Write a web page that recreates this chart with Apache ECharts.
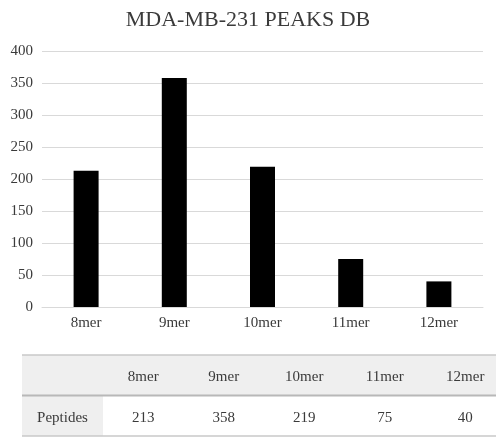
<!DOCTYPE html>
<html><head><meta charset="utf-8">
<script src="https://cdn.jsdelivr.net/npm/echarts@6/dist/echarts.min.js"></script>
<style>html,body{margin:0;padding:0;background:#fff}#c{width:496px;height:437px}</style>
</head><body><div id="c"></div>
<script>
const titleText = 'MDA-MB-231 PEAKS DB';
const categories = ['8mer', '9mer', '10mer', '11mer', '12mer'];
const peptides = [213, 358, 219, 75, 40];
const rowLabel = 'Peptides';
const yTicks = [0, 50, 100, 150, 200, 250, 300, 350, 400];

const FONT = '"Liberation Serif", "DejaVu Serif", serif';
const TXT = '#3a3a3a';

const chart = echarts.init(document.getElementById('c'), null, {renderer: 'canvas'});

// table layout
const tLeft = 22, tTop = 355, firstW = 81, colW = 80.5, rowH = 40.5;
const tRight = 496;
const g = [];
g.push({type: 'rect', shape: {x: tLeft, y: tTop, width: tRight - tLeft, height: rowH}, style: {fill: '#efefef'}, silent: true});
g.push({type: 'rect', shape: {x: tLeft, y: tTop + rowH, width: firstW, height: rowH}, style: {fill: '#efefef'}, silent: true});
g.push({type: 'line', shape: {x1: tLeft, y1: tTop, x2: tRight, y2: tTop}, style: {stroke: '#c8c8c8', lineWidth: 1.5}, silent: true});
g.push({type: 'line', shape: {x1: tLeft, y1: tTop + rowH, x2: tRight, y2: tTop + rowH}, style: {stroke: '#b8b8b8', lineWidth: 2}, silent: true});
g.push({type: 'line', shape: {x1: tLeft, y1: tTop + 2 * rowH, x2: tRight, y2: tTop + 2 * rowH}, style: {stroke: '#c8c8c8', lineWidth: 1.5}, silent: true});
g.push({type: 'text', x: tLeft + firstW / 2, y: tTop + rowH * 1.5 + 2, style: {text: rowLabel, font: '15px ' + FONT, fill: TXT, align: 'center', verticalAlign: 'middle'}, silent: true});
categories.forEach((c, i) => {
  const cx = tLeft + firstW + colW * (i + 0.5);
  g.push({type: 'text', x: cx, y: tTop + rowH * 0.5 + 2, style: {text: c, font: '15px ' + FONT, fill: TXT, align: 'center', verticalAlign: 'middle'}, silent: true});
  g.push({type: 'text', x: cx, y: tTop + rowH * 1.5 + 2, style: {text: String(peptides[i]), font: '15px ' + FONT, fill: TXT, align: 'center', verticalAlign: 'middle'}, silent: true});
});

chart.setOption({
  animation: false,
  backgroundColor: '#fff',
  title: {
    text: titleText, left: 'center', top: 4,
    textStyle: {fontFamily: FONT, fontSize: 22, fontWeight: 'normal', color: '#3a3a3a'}
  },
  grid: {left: 42, right: 13, top: 51, bottom: 130, containLabel: false},
  xAxis: {
    type: 'category', data: categories,
    axisLine: {lineStyle: {color: '#d9d9d9'}},
    axisTick: {show: false},
    axisLabel: {fontFamily: FONT, fontSize: 15, color: TXT, margin: 9}
  },
  yAxis: {
    type: 'value', min: yTicks[0], max: yTicks[yTicks.length - 1], interval: 50,
    axisLine: {show: false}, axisTick: {show: false},
    axisLabel: {fontFamily: FONT, fontSize: 15, color: TXT, margin: 9},
    splitLine: {lineStyle: {color: '#d9d9d9'}}
  },
  series: [{
    type: 'bar', data: peptides, barWidth: 25,
    itemStyle: {color: '#000'}
  }],
  graphic: g
});
</script></body></html>
